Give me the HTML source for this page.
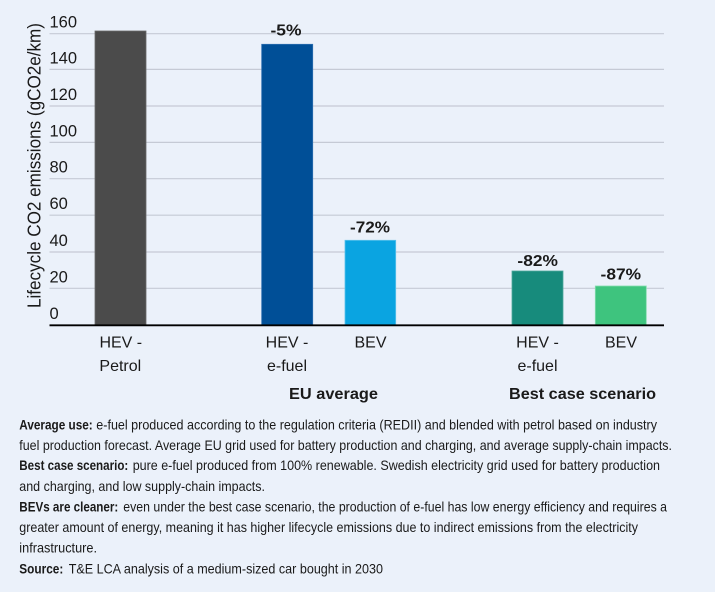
<!DOCTYPE html>
<html>
<head>
<meta charset="utf-8">
<style>
html,body{margin:0;padding:0;background:#ebf1fa;}
svg{display:block;}
text{font-family:"Liberation Sans",sans-serif;fill:#1a1a1a;}
.b{font-weight:bold;}
</style>
</head>
<body>
<svg width="715" height="592" viewBox="0 0 715 592" xmlns="http://www.w3.org/2000/svg">
<rect x="0" y="0" width="715" height="592" fill="#ebf1fa"/>
<!-- gridlines -->
<g stroke="#c5cad5" stroke-width="1.2">
<line x1="49.5" x2="664" y1="33.7" y2="33.7"/>
<line x1="49.5" x2="664" y1="69.4" y2="69.4"/>
<line x1="49.5" x2="664" y1="106" y2="106"/>
<line x1="49.5" x2="664" y1="142.4" y2="142.4"/>
<line x1="49.5" x2="664" y1="178.7" y2="178.7"/>
<line x1="49.5" x2="664" y1="215.2" y2="215.2"/>
<line x1="49.5" x2="664" y1="252" y2="252"/>
<line x1="49.5" x2="664" y1="288.3" y2="288.3"/>
</g>
<!-- tick labels -->
<g font-size="16.5">
<text x="49.5" y="27.7">160</text>
<text x="49.5" y="63.4">140</text>
<text x="49.5" y="100">120</text>
<text x="49.5" y="136.4">100</text>
<text x="49.5" y="172.7">80</text>
<text x="49.5" y="209.2">60</text>
<text x="49.5" y="246">40</text>
<text x="49.5" y="282.3">20</text>
<text x="49.5" y="319">0</text>
</g>
<!-- axis title -->
<text font-size="18" text-anchor="middle" transform="translate(40.5,165.5) rotate(-90)" textLength="285" lengthAdjust="spacingAndGlyphs">Lifecycle CO2 emissions (gCO2e/km)</text>
<!-- bars -->
<rect x="95" y="31" width="51" height="294.3" fill="#4b4b4b" stroke="#6a6a6a" stroke-width="0.8"/>
<rect x="261.7" y="44.3" width="51" height="281" fill="#004f97" stroke="#2c6db0" stroke-width="0.8"/>
<rect x="345" y="240.3" width="50.7" height="85" fill="#0aa4e1" stroke="#5cc2ec" stroke-width="0.8"/>
<rect x="512" y="271" width="51" height="54.3" fill="#178b7c" stroke="#4fa89c" stroke-width="0.8"/>
<rect x="595.3" y="286" width="51" height="39.3" fill="#3ec47e" stroke="#86dcae" stroke-width="0.8"/>
<!-- axis -->
<line x1="49.5" x2="664" y1="325.3" y2="325.3" stroke="#000" stroke-width="1.8"/>
<!-- percent labels -->
<g font-size="16" text-anchor="middle">
<text class="b" x="286" y="35.5" textLength="31" lengthAdjust="spacingAndGlyphs">-5%</text>
<text class="b" x="370" y="232.3" textLength="40" lengthAdjust="spacingAndGlyphs">-72%</text>
<text class="b" x="537.7" y="266" textLength="40.5" lengthAdjust="spacingAndGlyphs">-82%</text>
<text class="b" x="620.8" y="279.3" textLength="40.5" lengthAdjust="spacingAndGlyphs">-87%</text>
</g>
<!-- category labels -->
<g font-size="16" text-anchor="middle">
<text x="120.8" y="347.3">HEV -</text>
<text x="120.3" y="371">Petrol</text>
<text x="287" y="347.3">HEV -</text>
<text x="287" y="371">e-fuel</text>
<text x="370.5" y="347.3">BEV</text>
<text x="537.5" y="347.3">HEV -</text>
<text x="537.5" y="371">e-fuel</text>
<text x="621" y="347.3">BEV</text>
</g>
<g font-size="16" text-anchor="middle">
<text class="b" x="333.5" y="399" textLength="89" lengthAdjust="spacingAndGlyphs">EU average</text>
<text class="b" x="582.5" y="399" textLength="147" lengthAdjust="spacingAndGlyphs">Best case scenario</text>
</g>
<!-- footnotes -->
<g font-size="14">
<text class="b" x="19.3" y="429.5" textLength="73.4" lengthAdjust="spacingAndGlyphs">Average use:</text>
<text x="96.3" y="429.5" textLength="560.7" lengthAdjust="spacingAndGlyphs">e-fuel produced according to the regulation criteria (REDII) and blended with petrol based on industry</text>
<text x="19.3" y="449.8" textLength="652.7" lengthAdjust="spacingAndGlyphs">fuel production forecast. Average EU grid used for battery production and charging, and average supply-chain impacts.</text>
<text class="b" x="19.3" y="470.2" textLength="109" lengthAdjust="spacingAndGlyphs">Best case scenario:</text>
<text x="132.7" y="470.2" textLength="527.3" lengthAdjust="spacingAndGlyphs">pure e-fuel produced from 100% renewable. Swedish electricity grid used for battery production</text>
<text x="19.3" y="490.8" textLength="245.7" lengthAdjust="spacingAndGlyphs">and charging, and low supply-chain impacts.</text>
<text class="b" x="19.3" y="511.4" textLength="99" lengthAdjust="spacingAndGlyphs">BEVs are cleaner:</text>
<text x="123.3" y="511.4" textLength="543.7" lengthAdjust="spacingAndGlyphs">even under the best case scenario, the production of e-fuel has low energy efficiency and requires a</text>
<text x="19.3" y="531.9" textLength="618.7" lengthAdjust="spacingAndGlyphs">greater amount of energy, meaning it has higher lifecycle emissions due to indirect emissions from the electricity</text>
<text x="19.3" y="552.4" textLength="77.7" lengthAdjust="spacingAndGlyphs">infrastructure.</text>
<text class="b" x="19.3" y="573.4" textLength="44" lengthAdjust="spacingAndGlyphs">Source:</text>
<text x="68.7" y="573.4" textLength="314.3" lengthAdjust="spacingAndGlyphs">T&amp;E LCA analysis of a medium-sized car bought in 2030</text>
</g>
</svg>
</body>
</html>
